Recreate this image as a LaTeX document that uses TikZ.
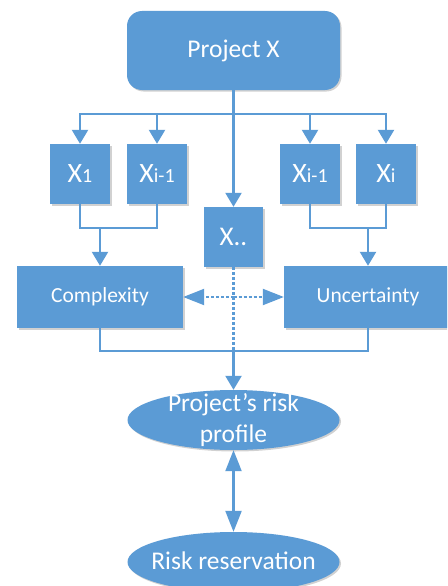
\documentclass[tikz,border=0pt]{standalone}
\usepackage{fontspec}
\setmainfont{Carlito}
\usetikzlibrary{arrows.meta,shapes.geometric,shadows}
\definecolor{obl}{HTML}{5B9BD5}
\definecolor{oln}{HTML}{5B9BD5}
\begin{document}
\begin{tikzpicture}[x=1pt,y=-1pt,
  base/.style={fill=obl,draw=none,text=white,inner sep=0pt,
    drop shadow={shadow xshift=1.5pt,shadow yshift=-1.5pt,opacity=0.18,fill=black}},
  topbox/.style={base,rectangle,rounded corners=15pt,minimum width=213pt,minimum height=79pt,
    font=\fontsize{25.5}{30}\selectfont},
  xbox/.style={base,rectangle,minimum width=60pt,minimum height=60pt,
    font=\fontsize{28}{32}\selectfont},
  bigbox/.style={base,rectangle,minimum width=166pt,minimum height=62pt,
    font=\fontsize{21.5}{26}\selectfont},
  oval/.style={base,ellipse,minimum width=212pt,minimum height=60pt},
  ovaltext/.style={text=white,inner sep=0pt,align=center,
    font=\fontsize{25.5}{31}\selectfont},
  conn/.style={draw=oln,line width=2.3pt},
  arr/.style={conn,-{Triangle[length=14pt,width=16pt]}},
  dotl/.style={draw=oln,line width=2.2pt,dash pattern=on 3pt off 2pt},
  dotarr/.style={dotl,-{Triangle[length=21pt,width=16pt]}},
  darr/.style={conn,{Triangle[length=21pt,width=16pt]}-{Triangle[length=21pt,width=16pt]}}
]
\useasboundingbox (0,0) rectangle (447,586);
\clip (0,0) rectangle (447,586);
\fill[white] (0,0) rectangle (447,586);

\node[topbox] (px) at (233.5,50.5) {Project X};
\node[xbox] (x1) at (80,174) {X\fontsize{20}{24}\selectfont 1};
\node[xbox] (xa) at (157,174) {X\fontsize{20}{24}\selectfont i-1};
\node[xbox] (xb) at (310,174) {X\fontsize{20}{24}\selectfont i-1};
\node[xbox] (xi) at (386,174) {X\fontsize{20}{24}\selectfont i};
\node[xbox,minimum width=59pt,font=\fontsize{27}{32}\selectfont] (xd) at (233.5,237) {X..};
\node[bigbox] (cx) at (100,297) {Complexity};
\node[bigbox,minimum width=168pt] (un) at (368,297) {Uncertainty};
\node[oval] (e1) at (233.5,420) {};
\node[ovaltext] (e1t) at (e1.center) {Project’s risk\\profile};
\node[oval] (e2) at (233.5,562) {};
\node[ovaltext,anchor=base] (e2t) at (233.5,569) {Risk reservation};

\coordinate (br) at (233.5,114);
\coordinate (jl) at (100,228);
\coordinate (jr) at (368,228);
\coordinate (jb) at (233.5,351);
\coordinate (dc) at (233.5,297);

% top branches
\draw[arr] (px.south) -- (xd.north);
\draw[arr] (br) -| (x1.north);
\draw[arr] (br) -| (xa.north);
\draw[arr] (br) -| (xb.north);
\draw[arr] (br) -| (xi.north);

% joins to complexity / uncertainty
\draw[conn] (x1.south) |- (jl) -| (xa.south);
\draw[arr] (jl) -- (cx.north);
\draw[conn] (xb.south) |- (jr) -| (xi.south);
\draw[arr] (jr) -- (un.north);

% bottom join
\draw[conn] (cx.south) |- (jb) -| (un.south);
\draw[arr] (jb) -- (e1.north);

% dotted
\draw[dotl] (xd.south) -- (jb);
\draw[dotarr] (dc) -- (cx.east);
\draw[dotarr] (dc) -- (un.west);

% double arrow
\draw[darr] (e1.south) -- (e2.north);
\end{tikzpicture}
\end{document}
